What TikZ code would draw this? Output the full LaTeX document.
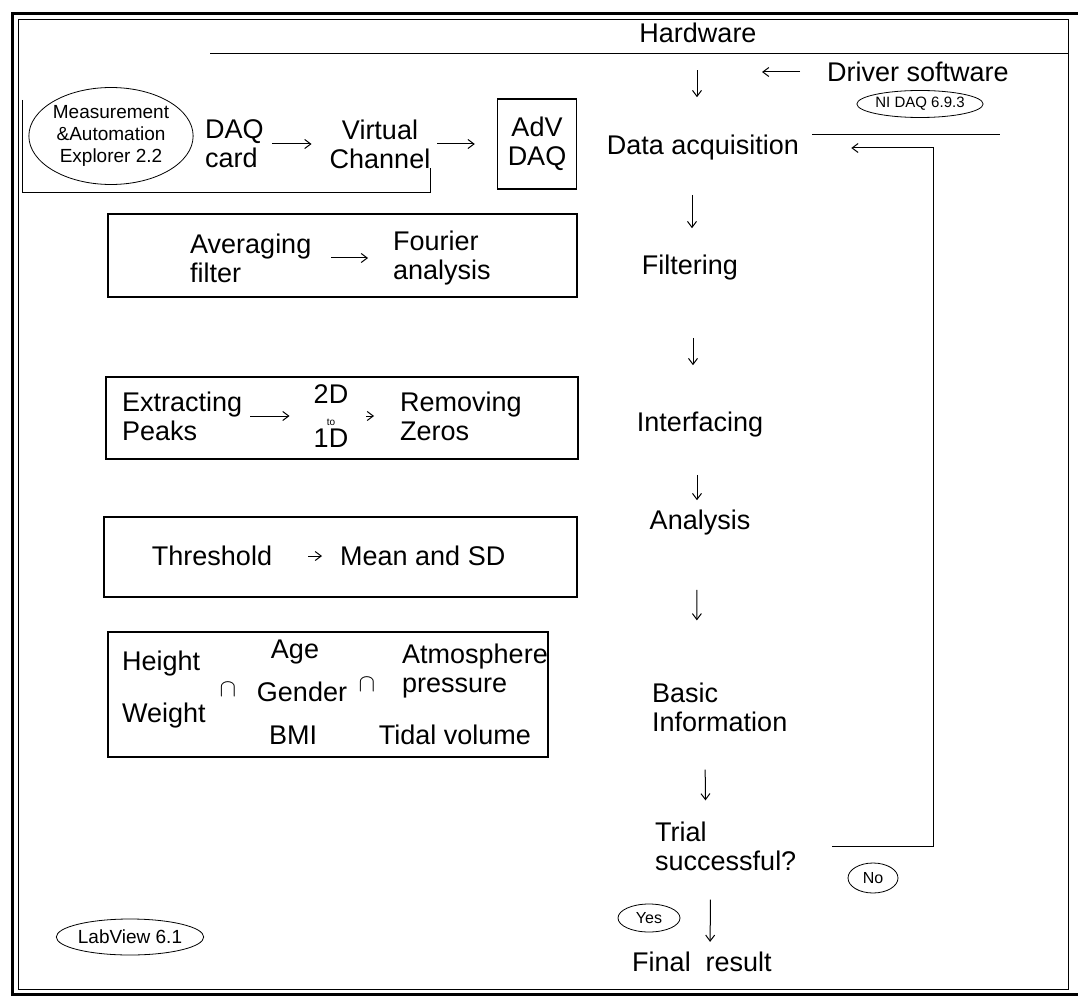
\documentclass[tikz,border=0pt]{standalone}
\usepackage{fontspec}
\setmainfont{Liberation Sans}
\usetikzlibrary{shapes.geometric,arrows.meta}
\begin{document}
\begin{tikzpicture}[x=1pt,y=-1pt,
  txt/.style={inner sep=0pt, font=\fontsize{27}{29}\selectfont, align=left},
  ctxt/.style={inner sep=0pt, font=\fontsize{27}{29}\selectfont, align=center},
  arr/.style={-{Straight Barb[length=6pt,width=9pt]}, line width=1pt},
  boxx/.style={draw, line width=2.2pt},
  ell/.style={draw, ellipse, line width=0.8pt, inner sep=0pt, align=center},
  thin/.style={line width=1pt}]
\useasboundingbox (0,0) rectangle (1078,1000);
% frames
\draw[line width=3pt] (12,14) rectangle (1084,994);
\draw[thin] (18,20) rectangle (1068,989);
\draw[thin] (210,54) -- (1068,54);
\draw[thin] (22,100) -- (22,193) -- (430,193) -- (430,168);
\draw[thin] (812,135) -- (1000,135);

% main column
\node[ctxt] (hw) at (698,33) {Hardware};
\node[ctxt] (daq) at (703,148) {Data acquisition};
\node[ctxt] (filt) at (690,268) {Filtering};
\node[ctxt] (intf) at (700,425) {Interfacing};
\node[ctxt] (anal) at (700,523) {Analysis};
\node[txt, anchor=west] (basic) at (652,707) {Basic\\Information};
\node[txt, anchor=west] (trial) at (655,846) {Trial\\successful?};
\node[ctxt] (final) at (702,962) {Final\ \ result};
\node[txt] (drv) at (918,72) {Driver software};
\coordinate (drvend) at (762,72);
\node[ell, minimum width=122pt, minimum height=27pt, font=\fontsize{15}{17}\selectfont] (nidaq) at (920,104) {NI DAQ 6.9.3};
\node[ell, minimum width=62pt, minimum height=28pt, font=\fontsize{16}{18}\selectfont] (yes) at (649,918) {Yes};
\node[ell, minimum width=50pt, minimum height=30pt, font=\fontsize{16}{18}\selectfont] (no) at (873,878) {No};
\coordinate (fbB) at (933,846);
\coordinate (fbC) at (933,148);

\draw[arr, shorten <=27pt, shorten >=38pt] ([xshift=-1pt]hw.south) -- ([xshift=-6pt]daq.north);
\draw[arr, shorten <=34pt, shorten >=27pt] ([xshift=-11pt]daq.south) -- ([xshift=2pt]filt.north);
\draw[arr, shorten <=57pt, shorten >=47pt] ([xshift=3pt]filt.south) -- ([xshift=-7pt]intf.north);
\draw[arr, shorten <=37pt, shorten >=10pt] ([xshift=-3pt]intf.south) -- ([xshift=-3pt]anal.north);
\draw[arr, shorten <=54pt, shorten >=62pt] ([xshift=-3pt]anal.south) -- ([xshift=-23pt]basic.north);
\draw[arr, shorten <=38pt, shorten >=21pt] ([xshift=-15pt]basic.south) -- ([xshift=-20pt]trial.north);
\draw[arr, shorten <=29pt, shorten >=10pt] ([xshift=-15pt]trial.south) -- ([xshift=8pt]final.north);
\draw[arr, shorten <=27pt] (drv.west) -- (drvend);
\draw[arr, shorten <=36pt, shorten >=52pt] (trial.east) -- (fbB) -- (fbC) -- (daq.east);

% left: hardware chain
\node[ell, minimum width=153pt, minimum height=97pt, font=\fontsize{19}{22}\selectfont] (mae) at (111,136) {Measurement\\\&Automation\\Explorer 2.2};
\node[txt, anchor=west] (daqcard) at (205,144) {DAQ\\card};
\node[ctxt] (vchan) at (380,144) {Virtual\\Channel};
\node[ctxt, draw, line width=1.5pt, minimum width=79pt, minimum height=90pt] (adv) at (537,144) {AdV\\DAQ};
\draw[arr, shorten <=8pt, shorten >=18pt] (daqcard) -- (vchan);
\draw[arr, shorten <=7pt, shorten >=22pt] (vchan) -- (adv);

% box 1
\draw[boxx] (108,214) rectangle (577,297);
\node[txt, anchor=west] (avg) at (190,258) {Averaging\\filter};
\node[txt, anchor=west] (four) at (393,258) {Fourier\\analysis};
\draw[arr, shorten <=20pt, shorten >=25pt] (avg) -- (four);

% box 2
\draw[boxx] (106,377) rectangle (578,459);
\node[txt, anchor=west] (ext) at (122,416) {Extracting\\Peaks};
\node[inner sep=0pt, align=center, font=\fontsize{27}{22}\selectfont] (conv) at (331,416) {2D\\{\fontsize{10}{12}\selectfont to}\\1D};
\node[txt, anchor=west] (rem) at (400,416) {Removing\\Zeros};
\draw[arr, shorten <=8pt, shorten >=24pt] (ext) -- (conv);
\draw[arr, shorten <=18pt, shorten >=26pt] (conv) -- (rem);

% box 3
\draw[boxx] (104,517) rectangle (577,597);
\node[txt] (thr) at (212,556) {Threshold};
\node[txt, anchor=west] (mean) at (340,556) {Mean and SD};
\draw[arr, shorten <=36pt, shorten >=18pt] (thr) -- (mean);

% box 4
\draw[boxx] (108,632) rectangle (548,757);
\node[txt, anchor=west] (height) at (122,664) {Height};
\node[txt, anchor=west] (weight) at (122,716) {Weight};
\node[txt] (capa) at (228,690) {$\cap$};
\node[txt] (age) at (295,652) {Age};
\node[txt] (gender) at (302,692) {Gender};
\node[txt] (bmi) at (293,735) {BMI};
\node[txt] (capb) at (367,685) {$\cap$};
\node[txt, anchor=west] (atm) at (402,671) {Atmosphere\\pressure};
\node[txt] (tidal) at (455,735) {Tidal volume};

% software label
\node[ell, minimum width=125pt, minimum height=36pt, font=\fontsize{19}{21}\selectfont] (lv) at (130,937) {LabView 6.1};
\end{tikzpicture}
\end{document}
